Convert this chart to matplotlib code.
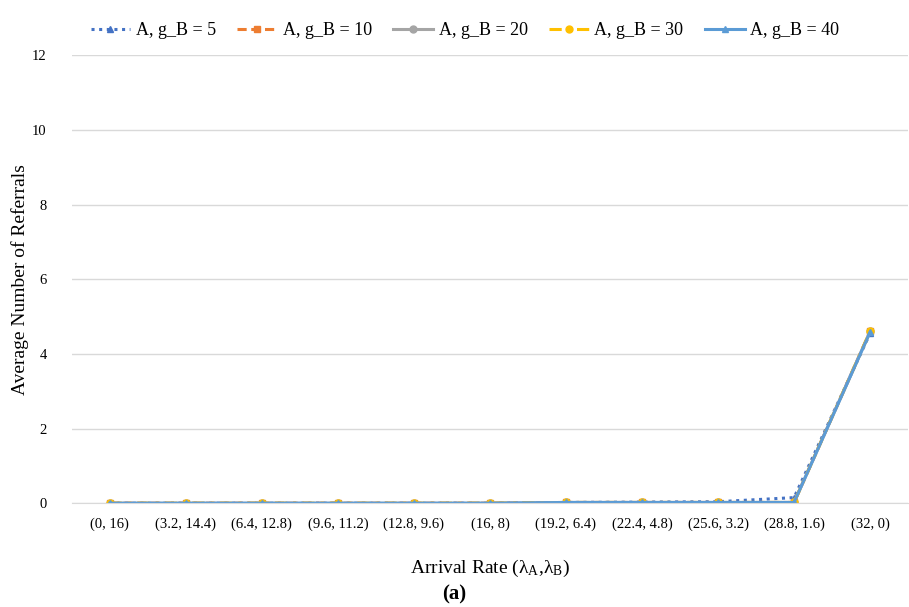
import matplotlib.pyplot as plt

plt.rcParams['font.family'] = ['Liberation Serif', 'DejaVu Serif']
plt.rcParams['mathtext.default'] = 'regular'

categories = ["(0, 16)", "(3.2, 14.4)", "(6.4, 12.8)", "(9.6, 11.2)", "(12.8, 9.6)",
              "(16, 8)", "(19.2, 6.4)", "(22.4, 4.8)", "(25.6, 3.2)", "(28.8, 1.6)", "(32, 0)"]

gb5 = [0, 0, 0, 0, 0, 0, 0.02, 0.03, 0.04, 0.15, 4.55]
gb10 = [0, 0, 0, 0, 0, 0, 0.02, 0.02, 0.02, 0.02, 4.6]
gb20 = [0, 0, 0, 0, 0, 0, 0.02, 0.02, 0.02, 0.02, 4.6]
gb30 = [0, 0, 0, 0, 0, 0, 0.02, 0.02, 0.02, 0.02, 4.6]
gb40 = [0, 0, 0, 0, 0, 0, 0.02, 0.02, 0.02, 0.02, 4.58]

series = [
    ("A, g_B = 5", gb5, '#4472C4', (0, (1, 1.5)), '^'),
    ("A, g_B = 10", gb10, '#ED7D31', (0, (3, 1.5)), 's'),
    ("A, g_B = 20", gb20, '#A5A5A5', '-', 'o'),
    ("A, g_B = 30", gb30, '#FFC000', (0, (4, 2, 1, 2)), 'o'),
    ("A, g_B = 40", gb40, '#5B9BD5', '-', '^'),
]

fig = plt.figure(figsize=(9.09, 6.07), dpi=100)
ax = fig.add_axes([0.079, 0.171, 0.92, 0.738])

x = range(len(categories))
for label, vals, color, ls, mk in series:
    ax.plot(x, vals, color=color, linestyle=ls, marker=mk, markersize=5,
            linewidth=2.2, label=label)

ax.set_xlim(-0.5, len(categories) - 0.5)
ax.set_ylim(0, 12)
ax.set_yticks(range(0, 13, 2))
ax.set_xticks(list(x))
ax.set_xticklabels(categories, fontsize=10.5)
ax.tick_params(axis='y', labelsize=10.5, length=0, pad=18)
ax.tick_params(axis='x', length=0, pad=10)
ax.grid(axis='y', color='#d9d9d9', linewidth=1)
ax.set_axisbelow(True)
for s in ['top', 'right', 'left']:
    ax.spines[s].set_visible(False)
ax.spines['bottom'].set_color('#d9d9d9')

ax.set_ylabel('Average Number of Referrals', fontsize=14, labelpad=2)
ax.set_xlabel(r'Arrival Rate ($\lambda_{A}$,$\lambda_{B}$)', fontsize=14, labelpad=20)

ax.legend(loc='lower center', bbox_to_anchor=(0.47, 1.0), ncol=5, frameon=False,
          fontsize=13, handlelength=2.2, columnspacing=1.2, handletextpad=0.3)

fig.text(0.5, 0.012, '(a)', ha='center', fontsize=15, fontweight='bold')

fig.savefig('out.png', dpi=100)
